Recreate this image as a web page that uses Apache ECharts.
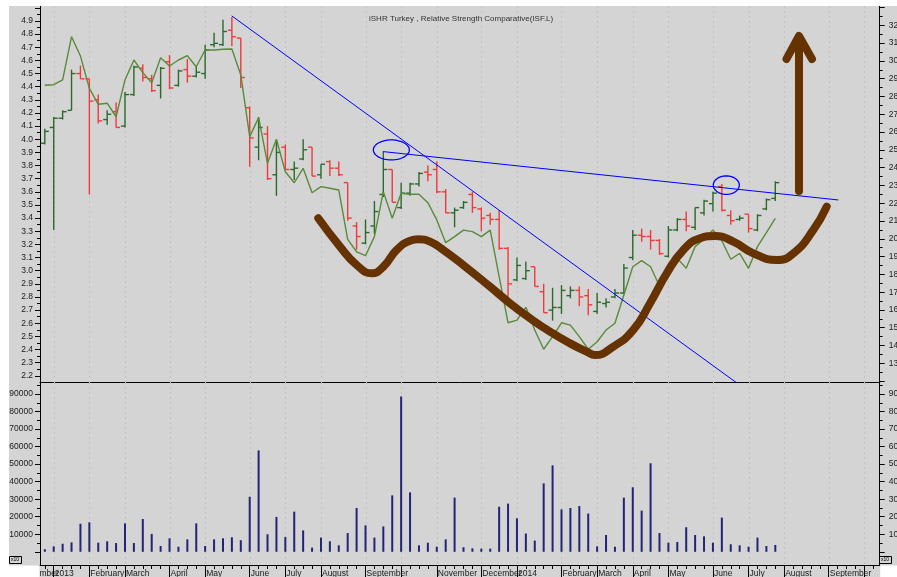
<!DOCTYPE html>
<html><head><meta charset="utf-8">
<script src="https://cdn.jsdelivr.net/npm/echarts@6/dist/echarts.min.js"></script>
<style>html,body{margin:0;padding:0;background:#fff}#c{width:897px;height:577px}</style>
</head><body><div id="c"></div>
<script>
// ---- DATA ----
const title = 'iSHR Turkey , Relative Strength Comparative(ISF.L)';
// week indices of month starts, and their labels ('' = label hidden)
const monthIdx = [1,5,9,14,18,23,27,31,36,40,44,49,53,58,62,66,70,75,79,83,88,92];
const monthLabels = ['2013','February','March','April','May','June','July','August','September','','November','December','2014','February','March','April','May','June','July','August','September',''];
const prevMonthIdx = -3, prevMonthLabel = 'December';
// weekly OHLC price bars (week 0 .. 82)
const open  = [3.97,4.09,4.16,4.22,4.50,4.46,4.30,4.15,4.21,4.10,4.34,4.54,4.46,4.41,4.59,4.41,4.53,4.48,4.50,4.72,4.72,4.83,4.77,4.24,3.94,4.04,3.73,3.94,3.77,3.85,3.94,3.73,3.83,3.78,3.67,3.34,3.21,3.34,3.58,3.77,3.48,3.59,3.66,3.75,3.77,3.60,3.44,3.48,3.58,3.47,3.42,3.39,3.17,2.93,2.94,3.03,2.84,2.70,2.72,2.81,2.85,2.81,2.69,2.75,2.80,2.83,3.10,3.27,3.26,3.23,3.11,3.31,3.39,3.33,3.44,3.51,3.64,3.42,3.39,3.43,3.31,3.47,3.55];
const high  = [4.08,4.17,4.22,4.53,4.56,4.46,4.34,4.22,4.28,4.36,4.56,4.57,4.49,4.55,4.64,4.53,4.61,4.55,4.72,4.81,4.91,4.93,4.77,4.25,4.17,4.10,4.00,3.96,3.83,4.00,3.94,3.81,3.84,3.83,3.67,3.37,3.39,3.53,3.91,3.77,3.67,3.67,3.75,3.80,3.83,3.62,3.48,3.53,3.60,3.48,3.44,3.46,3.18,3.10,3.07,3.03,2.90,2.87,2.89,2.88,2.88,2.86,2.83,2.79,2.86,3.05,3.31,3.32,3.31,3.24,3.34,3.40,3.45,3.48,3.54,3.60,3.66,3.46,3.42,3.43,3.43,3.55,3.68];
const low   = [3.96,3.31,4.15,4.22,4.46,3.58,4.12,4.11,4.09,4.09,4.33,4.44,4.36,4.31,4.38,4.40,4.43,4.47,4.46,4.70,4.71,4.71,4.39,3.79,3.84,3.69,3.57,3.77,3.69,3.84,3.72,3.70,3.72,3.72,3.38,3.16,3.20,3.28,3.56,3.52,3.47,3.57,3.64,3.68,3.59,3.44,3.33,3.47,3.44,3.30,3.35,3.16,2.78,2.92,2.93,2.88,2.68,2.62,2.67,2.79,2.73,2.66,2.67,2.72,2.79,2.82,3.08,3.22,3.16,3.12,3.10,3.30,3.30,3.31,3.42,3.45,3.45,3.35,3.38,3.29,3.30,3.46,3.53];
const close = [4.06,4.16,4.21,4.50,4.46,4.29,4.14,4.19,4.09,4.34,4.55,4.47,4.37,4.54,4.39,4.52,4.48,4.51,4.68,4.73,4.82,4.78,4.47,4.01,4.09,3.70,3.90,3.77,3.78,3.92,3.72,3.81,3.78,3.73,3.40,3.26,3.29,3.45,3.77,3.52,3.59,3.66,3.74,3.73,3.60,3.44,3.46,3.52,3.48,3.40,3.39,3.17,2.90,3.04,3.00,2.88,2.68,2.72,2.85,2.85,2.80,2.74,2.76,2.76,2.83,3.02,3.27,3.26,3.23,3.13,3.31,3.39,3.34,3.48,3.53,3.59,3.46,3.38,3.40,3.32,3.42,3.54,3.67];
// relative strength comparative (right axis)
const rsc = [28.63,28.66,28.93,31.36,30.27,28.46,27.56,27.62,26.86,28.93,30.05,29.34,28.77,30.18,29.71,30.05,30.29,29.67,30.61,30.61,30.65,30.67,29.21,25.74,26.81,24.24,25.59,23.77,23.15,23.96,22.59,22.93,22.84,22.74,19.97,19.27,19.05,20.12,22.65,21.15,22.56,22.50,22.50,22.03,21.06,19.78,20.12,20.49,20.40,20.12,20.49,17.87,15.28,15.43,16.15,14.87,13.79,14.50,15.28,15.15,14.50,13.79,14.21,14.87,15.25,16.84,18.43,18.77,18.43,17.35,18.15,18.90,18.34,19.56,19.97,20.49,19.89,18.85,19.18,18.34,19.56,20.34,21.15];
// weekly volume
const volume = [1500,3100,4600,5400,16000,16800,5200,6000,5000,16200,5000,18700,10200,3300,7700,2900,7100,16200,3300,7100,7700,8300,6600,31400,57800,10000,19900,8500,22900,12200,2400,8100,6000,3700,10700,25000,15100,8100,14500,32200,88600,33900,3700,5200,2900,7100,30900,2600,2000,1800,1800,25700,27500,19100,10400,6400,39000,49300,24200,25000,26100,21800,3100,9600,2900,30900,36800,23500,50500,10700,5200,5600,14000,9600,8800,5200,19500,4300,3700,2900,8100,3300,3900];
// tick values
const priceTicks = [2.2,2.3,2.4,2.5,2.6,2.7,2.8,2.9,3.0,3.1,3.2,3.3,3.4,3.5,3.6,3.7,3.8,3.9,4.0,4.1,4.2,4.3,4.4,4.5,4.6,4.7,4.8,4.9];
const rscTicks = [13,14,15,16,17,18,19,20,21,22,23,24,25,26,27,28,29,30,31,32];
const volTicks = [10000,20000,30000,40000,50000,60000,70000,80000,90000];
// annotations drawn on the chart (in axis units: week index, price)
const trendDown = [[20.98,4.939],[78.0,2.130]];
const trendFlat = [[38.0,3.906],[89.08,3.538]];
const circles = [[38.9,3.919,2.02,0.076],[76.5,3.651,1.46,0.070]];
const wave = [[30.70,3.399],[33.14,3.183],[35.01,3.043],[36.70,2.980],[38.00,3.030],[39.50,3.158],[41.00,3.228],[41.93,3.239],[43.24,3.221],[44.73,3.158],[46.98,3.043],[49.98,2.878],[52.22,2.752],[54.47,2.638],[56.71,2.536],[58.96,2.447],[60.83,2.384],[61.76,2.358],[63.82,2.422],[66.06,2.549],[67.94,2.752],[69.81,2.980],[71.68,3.158],[73.55,3.247],[75.24,3.264],[77.29,3.221],[79.54,3.132],[82.16,3.081],[84.03,3.132],[86.27,3.310],[87.77,3.487]];
const arrowShaft = [[84.66,3.607],[84.66,4.756]];
const arrowHead = [[83.26,4.611],[84.66,4.786],[86.12,4.611]];

// ---- CHART ----
const XMIN=-0.54, XMAX=93.72, PMIN=2.153, PMAX=5.014, RMIN=11.95, RMAX=33.085, VMIN=-7526, VMAX=96840;
const FONT='Liberation Sans, Arial, sans-serif', TXT='#1a1a1a', FS=8.5;
const GREEN='#2b6a2b', RED='#f03a3a', BLUE='#0000ff', BROWN='#663300', GRIDC='#c2c2c2';
const weekTicks=[]; for(let i=0;i<=93;i++) weekTicks.push(i);
const half = a => a.slice(0,-1).map((v,i)=>+( (v+a[i+1])/2 ).toFixed(4));
const ohlc = open.map((o,i)=>[i,o,high[i],low[i],close[i]]);

function yAx(grid,pos,min,max,ticks,len,labels,fmt,showLine,margin){
  return {type:'value',gridIndex:grid,position:pos,min:min,max:max,
    axisLine:{show:showLine,onZero:false,lineStyle:{color:'#000',width:1}},
    axisTick:{show:true,length:len,customValues:ticks,lineStyle:{color:'#000',width:1}},
    axisLabel:labels?{show:true,customValues:labels,formatter:fmt,fontSize:FS,fontFamily:FONT,color:TXT,margin:margin,hideOverlap:false}:{show:false},
    splitLine:{show:false}};
}
const option = {
  animation:false,
  backgroundColor:'#d4d4d4',
  title:{text:title,left:364,top:10,textStyle:{fontSize:8,fontWeight:'normal',fontFamily:FONT,color:'#333'}},
  grid:[{left:40,top:6,width:839.7,height:376,containLabel:false,outerBoundsMode:'none'},
        {left:40,top:382,width:839.7,height:183,containLabel:false,outerBoundsMode:'none'}],
  xAxis:[
    {type:'value',gridIndex:0,position:'bottom',min:XMIN,max:XMAX,axisLine:{show:true,onZero:false,lineStyle:{color:'#000',width:1}},axisTick:{show:false},axisLabel:{show:false},splitLine:{show:false}},
    {type:'value',gridIndex:1,position:'bottom',min:XMIN,max:XMAX,axisLine:{show:true,onZero:false,lineStyle:{color:'#000',width:1}},
      axisTick:{show:true,length:4,customValues:weekTicks,lineStyle:{color:'#000'}},
      axisLabel:{show:true,customValues:monthIdx,hideOverlap:false,formatter:v=>monthLabels[monthIdx.indexOf(Math.round(v))]||'',align:'left',padding:[0,0,0,1],fontSize:FS,fontFamily:FONT,color:TXT,margin:4},
      splitLine:{show:false}},
    {type:'value',gridIndex:1,position:'bottom',min:XMIN,max:XMAX,axisLine:{show:false,onZero:false},axisTick:{show:true,length:12,customValues:monthIdx,lineStyle:{color:'#000'}},axisLabel:{show:false},splitLine:{show:false}}
  ],
  yAxis:[
    yAx(0,'left',PMIN,PMAX,priceTicks.concat([5.0]),5,priceTicks,v=>v.toFixed(1),true,7),
    yAx(0,'left',PMIN,PMAX,half(priceTicks.concat([5.0])),3,null,null,false),
    yAx(0,'right',RMIN,RMAX,[12].concat(rscTicks,[33]),5,rscTicks,v=>String(Math.round(v)),true,9),
    yAx(0,'right',RMIN,RMAX,half([12].concat(rscTicks,[33])),3,null,null,false),
    yAx(1,'left',VMIN,VMAX,[0].concat(volTicks),5,volTicks,v=>String(Math.round(v)),true,7),
    yAx(1,'left',VMIN,VMAX,half([0].concat(volTicks,[100000])),3,null,null,false),
    yAx(1,'right',VMIN,VMAX,[0].concat(volTicks),5,volTicks,v=>String(Math.round(v)),true,9),
    yAx(1,'right',VMIN,VMAX,half([0].concat(volTicks,[100000])),3,null,null,false)
  ],
  series:[
    {type:'custom',xAxisIndex:0,yAxisIndex:0,z:1,silent:true,data:monthIdx.map(m=>[m,PMIN]),encode:{x:0,y:1},
      renderItem:(p,api)=>{const a=api.coord([api.value(0),PMAX]),b=api.coord([api.value(0),PMIN]);
        return {type:'line',shape:{x1:Math.round(a[0])+0.5,y1:a[1],x2:Math.round(b[0])+0.5,y2:b[1]},style:{stroke:GRIDC,lineWidth:1,lineDash:[2,3]}};}},
    {type:'custom',xAxisIndex:1,yAxisIndex:4,z:1,silent:true,data:monthIdx.map(m=>[m,0]),encode:{x:0,y:1},
      renderItem:(p,api)=>{const a=api.coord([api.value(0),VMAX]),b=api.coord([api.value(0),VMIN]);
        return {type:'line',shape:{x1:Math.round(a[0])+0.5,y1:a[1],x2:Math.round(b[0])+0.5,y2:b[1]},style:{stroke:GRIDC,lineWidth:1,lineDash:[2,3]}};}},
    {type:'custom',name:'Price',xAxisIndex:0,yAxisIndex:0,z:3,data:ohlc,encode:{x:0,y:[1,2,3,4]},
      renderItem:(p,api)=>{
        const x=api.value(0),o=api.value(1),h=api.value(2),l=api.value(3),c=api.value(4);
        const pH=api.coord([x,h]),pL=api.coord([x,l]),pO=api.coord([x,o]),pC=api.coord([x,c]);
        const col=c>=o?GREEN:RED, t=4, lw=1.4;
        return {type:'group',children:[
          {type:'line',shape:{x1:pH[0],y1:pH[1],x2:pL[0],y2:pL[1]},style:{stroke:col,lineWidth:lw}},
          {type:'line',shape:{x1:pO[0]-t,y1:pO[1],x2:pO[0],y2:pO[1]},style:{stroke:col,lineWidth:lw}},
          {type:'line',shape:{x1:pC[0],y1:pC[1],x2:pC[0]+t,y2:pC[1]},style:{stroke:col,lineWidth:lw}}]};
      }},
    {type:'line',name:'RSC',xAxisIndex:0,yAxisIndex:2,z:4,data:rsc.map((v,i)=>[i,v]),symbol:'none',lineStyle:{color:'#5a8a3a',width:1.4}},
    {type:'line',xAxisIndex:0,yAxisIndex:0,z:5,data:trendDown,symbol:'none',lineStyle:{color:BLUE,width:1}},
    {type:'line',xAxisIndex:0,yAxisIndex:0,z:5,data:trendFlat,symbol:'none',lineStyle:{color:BLUE,width:1}},
    {type:'custom',xAxisIndex:0,yAxisIndex:0,z:5,data:circles,encode:{x:0,y:1},
      renderItem:(p,api)=>{const c=api.coord([api.value(0),api.value(1)]),s=api.size([api.value(2),api.value(3)]);
        const pts=[];for(let k=0;k<60;k++){const a=k/60*Math.PI*2;pts.push([c[0]+s[0]*Math.cos(a),c[1]+s[1]*Math.sin(a)]);}
        return {type:'polygon',shape:{points:pts},style:{fill:'none',stroke:BLUE,lineWidth:1.3}};}},
    {type:'line',xAxisIndex:0,yAxisIndex:0,z:6,data:wave,smooth:0.5,symbol:'none',lineStyle:{color:BROWN,width:8,cap:'round',join:'round'}},
    {type:'line',xAxisIndex:0,yAxisIndex:0,z:6,data:arrowShaft,symbol:'none',lineStyle:{color:BROWN,width:8,cap:'round'}},
    {type:'line',xAxisIndex:0,yAxisIndex:0,z:6,data:arrowHead,symbol:'none',lineStyle:{color:BROWN,width:8,cap:'round',join:'round'}},
    {type:'bar',name:'Volume',xAxisIndex:1,yAxisIndex:4,z:3,data:volume.map((v,i)=>[i,v]),barWidth:2,itemStyle:{color:'#23237a'}}
  ]
};
const chart = echarts.init(document.getElementById('c'),null,{renderer:'canvas'});
chart.setOption(option);
const dx = chart.convertToPixel({xAxisIndex:1},prevMonthIdx);
chart.setOption({graphic:{elements:[
  {type:'text',z:50,left:dx+1.5,top:569,style:{text:prevMonthLabel,font:FS+'px '+FONT,fill:TXT}},
  {type:'rect',z:60,shape:{x:0,y:565.5,width:39.5,height:12},style:{fill:'#fff'}},
  {type:'rect',z:60,shape:{x:880.2,y:565.5,width:17,height:12},style:{fill:'#fff'}},
  {type:'rect',z:60,shape:{x:0,y:0,width:897,height:6},style:{fill:'#fff'}},
  {type:'rect',z:60,shape:{x:0,y:0,width:9,height:577},style:{fill:'#fff'}},
  {type:'rect',z:61,shape:{x:9.5,y:556.5,width:12,height:7},style:{fill:'none',stroke:'#000',lineWidth:1}},
  {type:'text',z:62,left:11,top:557.5,style:{text:'x10',font:'5px '+FONT,fill:'#000'}},
  {type:'rect',z:61,shape:{x:879.5,y:556.5,width:12,height:7},style:{fill:'none',stroke:'#000',lineWidth:1}},
  {type:'text',z:62,left:881,top:557.5,style:{text:'x10',font:'5px '+FONT,fill:'#000'}}
]}});
</script></body></html>
